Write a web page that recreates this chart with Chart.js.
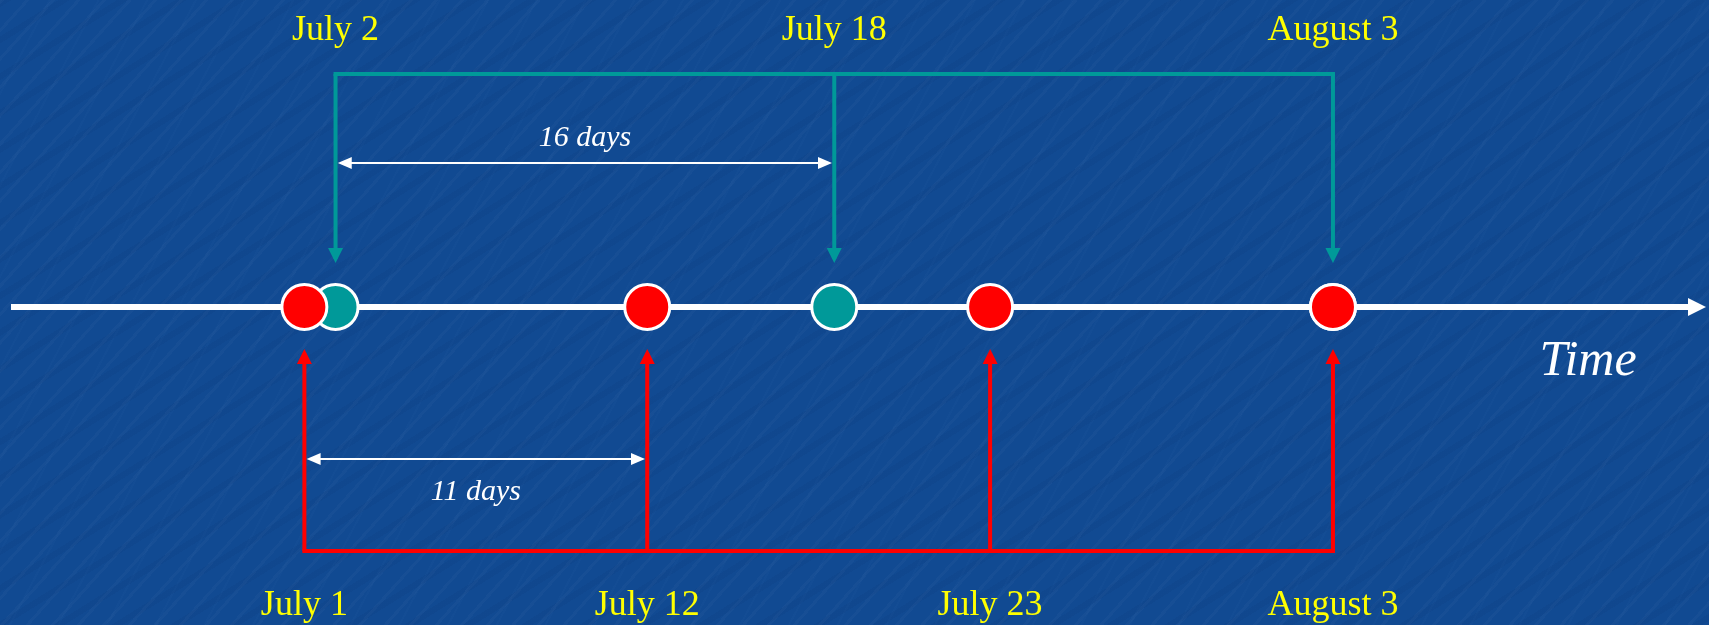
<!DOCTYPE html>
<html>
<head>
<meta charset="utf-8">
<title>Two schedules</title>
<script src="https://cdn.jsdelivr.net/npm/chart.js@4.4.1/dist/chart.umd.min.js"></script>
<style>
  html, body { margin: 0; padding: 0; overflow: hidden; }
  body {
    background:
      repeating-linear-gradient(132deg, rgba(255,255,255,0.025) 0 3px, transparent 3px 19px),
      repeating-linear-gradient(148deg, rgba(0,20,70,0.05) 0 6px, transparent 6px 31px),
      repeating-linear-gradient(118deg, rgba(120,170,230,0.025) 0 2px, transparent 2px 43px),
      #114a92;
  }
  #box { position: relative; width: 1709px; height: 625px; }
</style>
</head>
<body>
<div id="box"><canvas id="timeline"></canvas></div>
<script>
// days counted from June 30, so July 1 = 1 and August 3 = 34
const redLabels = ['July 1', 'July 12', 'July 23', 'August 3'];
const redDays = [1, 12, 23, 34];
const tealLabels = ['July 2', 'July 18', 'August 3'];
const tealDays = [2, 18, 34];

// intervals marked with a double arrow (first teal gap, first red gap)
const spanFrom = [2, 1];
const spanTo = [18, 12];

const RED = '#ff0000';
const TEAL = '#009999';
const YELLOW = '#ffff00';
const SERIF = '"Liberation Serif", "Times New Roman", serif';

// vertical levels in y units (timeline sits at 0)
const lv = {
    tealBar: 1, tealTip: 0.206, tealText: 1.146,
    redBar: -1.047, redTip: -0.197, redText: -1.322,
    spanY: [0.618, -0.652], spanText: [0.691, -0.828],
    timeText: -0.292
};
const SPAN_INSET = 0.2;

const stem = (d, from, to, color) => ({
    data: [{ x: d, y: from }, { x: d, y: to }],
    showLine: true, pointRadius: 0, borderColor: color, borderWidth: 4,
    arrowHead: 'end', headLen: 15, headWidth: 15
});

const datasets = [
    {
        label: 'red',
        data: redDays.map(d => ({ x: d, y: 0 })),
        backgroundColor: RED, borderColor: '#ffffff', borderWidth: 3, pointRadius: 22.5
    },
    {
        label: 'teal',
        data: tealDays.map(d => ({ x: d, y: 0 })),
        backgroundColor: TEAL, borderColor: '#ffffff', borderWidth: 3, pointRadius: 22.5
    },
    {
        data: [{ x: tealDays[0], y: lv.tealBar }, { x: tealDays.at(-1), y: lv.tealBar }],
        showLine: true, pointRadius: 0, borderColor: TEAL, borderWidth: 4, borderCapStyle: 'square'
    },
    {
        data: [{ x: redDays[0], y: lv.redBar }, { x: redDays.at(-1), y: lv.redBar }],
        showLine: true, pointRadius: 0, borderColor: RED, borderWidth: 4, borderCapStyle: 'square'
    },
    ...tealDays.map(d => stem(d, lv.tealBar, lv.tealTip, TEAL)),
    ...redDays.map(d => stem(d, lv.redBar, lv.redTip, RED)),
    ...spanFrom.map((f, i) => ({
        data: [{ x: f + SPAN_INSET, y: lv.spanY[i] }, { x: spanTo[i] - SPAN_INSET, y: lv.spanY[i] }],
        showLine: true, pointRadius: 0, borderColor: '#ffffff', borderWidth: 2,
        arrowHead: 'both', headLen: 14, headWidth: 12
    }))
];

function drawHead(ctx, tip, from, len, width, color) {
    const a = Math.atan2(tip.y - from.y, tip.x - from.x);
    ctx.save();
    ctx.translate(tip.x, tip.y);
    ctx.rotate(a);
    ctx.beginPath();
    ctx.moveTo(4, 0);
    ctx.lineTo(4 - len, -width / 2);
    ctx.lineTo(4 - len, width / 2);
    ctx.closePath();
    ctx.fillStyle = color;
    ctx.fill();
    ctx.restore();
}

// the time axis itself: a thick white arrow through y = 0
const timeAxis = {
    id: 'timeAxis',
    beforeDatasetsDraw(chart) {
        const { ctx, chartArea, scales } = chart;
        const y0 = scales.y.getPixelForValue(0);
        const tipX = chartArea.right - 3;
        ctx.save();
        ctx.strokeStyle = '#ffffff';
        ctx.fillStyle = '#ffffff';
        ctx.lineWidth = 6;
        ctx.beginPath();
        ctx.moveTo(chartArea.left + 11, y0);
        ctx.lineTo(tipX - 14, y0);
        ctx.stroke();
        ctx.beginPath();
        ctx.moveTo(tipX, y0);
        ctx.lineTo(tipX - 18, y0 - 9);
        ctx.lineTo(tipX - 18, y0 + 9);
        ctx.closePath();
        ctx.fill();
        ctx.restore();
    }
};

const arrowHeads = {
    id: 'arrowHeads',
    afterDatasetsDraw(chart) {
        const ctx = chart.ctx;
        chart.data.datasets.forEach((ds, i) => {
            if (!ds.arrowHead) return;
            const pts = chart.getDatasetMeta(i).data;
            const last = pts[pts.length - 1], prev = pts[pts.length - 2];
            drawHead(ctx, last, prev, ds.headLen, ds.headWidth, ds.borderColor);
            if (ds.arrowHead === 'both') {
                drawHead(ctx, pts[0], pts[1], ds.headLen, ds.headWidth, ds.borderColor);
            }
        });
    }
};

const textLabels = {
    id: 'textLabels',
    afterDatasetsDraw(chart) {
        const { ctx, chartArea, scales: { x, y } } = chart;
        ctx.save();
        ctx.textAlign = 'center';
        ctx.textBaseline = 'alphabetic';

        ctx.fillStyle = YELLOW;
        ctx.font = '36px ' + SERIF;
        tealDays.forEach((d, i) => ctx.fillText(tealLabels[i], x.getPixelForValue(d), y.getPixelForValue(lv.tealText)));
        redDays.forEach((d, i) => ctx.fillText(redLabels[i], x.getPixelForValue(d), y.getPixelForValue(lv.redText)));

        ctx.fillStyle = '#ffffff';
        ctx.font = 'italic 30px ' + SERIF;
        spanFrom.forEach((f, i) => {
            const mid = x.getPixelForValue((f + spanTo[i]) / 2);
            ctx.fillText((spanTo[i] - f) + ' days', mid, y.getPixelForValue(lv.spanText[i]));
        });

        ctx.font = 'italic 50px ' + SERIF;
        ctx.fillText('Time', chartArea.right - 121, y.getPixelForValue(lv.timeText));
        ctx.restore();
    }
};

new Chart(document.getElementById('timeline'), {
    type: 'scatter',
    data: { datasets },
    options: {
        responsive: true,
        maintainAspectRatio: false,
        animation: false,
        events: [],
        layout: { padding: 0, autoPadding: false },
        plugins: {
            legend: { display: false },
            tooltip: { enabled: false }
        },
        scales: {
            x: { type: 'linear', min: -8.765, max: 46.064, display: false },
            y: { type: 'linear', min: -1.365, max: 1.318, display: false }
        }
    },
    plugins: [timeAxis, arrowHeads, textLabels]
});
</script>
</body>
</html>
